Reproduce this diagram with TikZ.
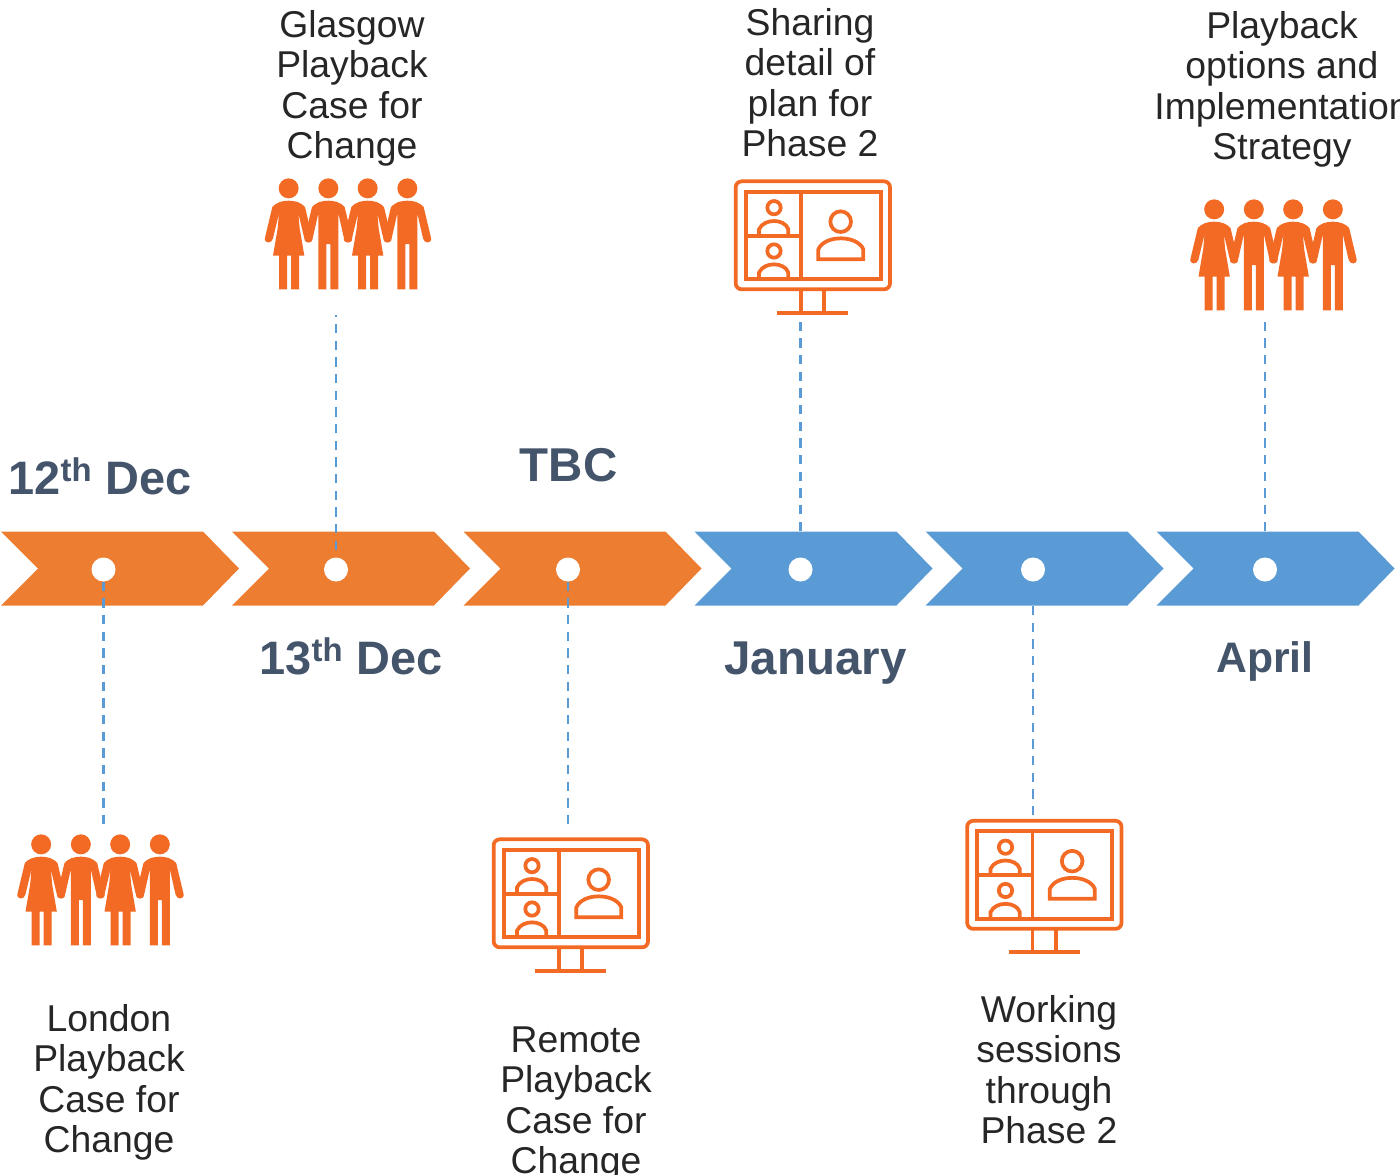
\documentclass[tikz,border=0pt]{standalone}
\usepackage{fontspec}
\setmainfont{Liberation Sans}
\definecolor{chevorange}{HTML}{ED7D31}
\definecolor{chevblue}{HTML}{5B9BD5}
\definecolor{iconorange}{HTML}{F36A25}
\definecolor{dateblue}{HTML}{44546A}
\definecolor{bodytext}{HTML}{262626}
\tikzset{
  dotnode/.style={circle,fill=white,minimum size=18pt,inner sep=0pt},
  dashline/.style={draw=chevblue,line width=2.1pt,dash pattern=on 7pt off 5.5pt},
  datetext/.style={font=\fontsize{35.6}{40}\selectfont\bfseries,text=dateblue,inner sep=0pt,anchor=base},
  bodynode/.style={font=\fontsize{28}{30.4}\selectfont,text=bodytext,align=center,inner sep=0pt,anchor=center},
  iconline/.style={draw=iconorange,line width=2.8pt,line join=miter},
}
\newcommand{\chevshape}[2]{\fill[#2] (#1,531.5) -- ++(202,0) -- ++(36,37) -- ++(-36,37) -- ++(-202,0) -- ++(37,-37) -- cycle;}
\newcommand{\womanfig}[1]{%
  \begin{scope}[shift={(#1,0)}]
  \fill[iconorange] (0,55) circle (30);
  \fill[iconorange] (0,92) .. controls (-20,92) and (-38,98) .. (-49,111)
    -- (-71,203) .. controls (-75,222) and (-50,222) .. (-47,205)
    -- (-29,130) -- (-33,175) -- (-47,257) -- (-29,257) -- (-29,358) -- (-5,358) -- (-5,257) -- (7,257) -- (7,358) -- (31,358) -- (31,257) -- (47,257)
    -- (33,175) -- (29,130) -- (47,205) .. controls (50,222) and (75,222) .. (71,203)
    -- (49,111) .. controls (38,98) and (20,92) .. (0,92) -- cycle;
  \end{scope}}
\newcommand{\manfig}[1]{%
  \begin{scope}[shift={(#1,0)}]
  \fill[iconorange] (0,55) circle (30);
  \fill[iconorange] (0,92) .. controls (-20,92) and (-38,98) .. (-49,111)
    -- (-71,203) .. controls (-75,222) and (-50,222) .. (-47,205)
    -- (-30,130) -- (-30,358) -- (-6,358) -- (-6,222) -- (6,222) -- (6,358) -- (30,358) -- (30,130)
    -- (47,205) .. controls (50,222) and (75,222) .. (71,203)
    -- (49,111) .. controls (38,98) and (20,92) .. (0,92) -- cycle;
  \end{scope}}
\newcommand{\peopleicon}[2]{%
  \begin{scope}[shift={(#1,#2)},x=.25pt,y=-.25pt]
  \womanfig{101}\manfig{220}\womanfig{338}\manfig{457}
  \end{scope}}
\newcommand{\monitoricon}[2]{%
  \begin{scope}[shift={(#1,#2)},x=.25pt,y=-.25pt]
  \draw[iconline,rounded corners=4.5pt] (32,34) rectangle (495,358);
  \draw[iconline] (62,65) rectangle (467,328);
  \draw[iconline] (228,65) -- (228,328) (62,197) -- (228,197);
  \draw[iconline] (147,113) circle (20);
  \draw[iconline] (102,197) -- (102,178) .. controls (110,160) and (130,153) .. (147,153) .. controls (164,153) and (184,160) .. (190,178) -- (190,197);
  \draw[iconline] (147,243) circle (20);
  \draw[iconline] (102,328) -- (102,308) .. controls (110,290) and (130,283) .. (147,283) .. controls (164,283) and (184,290) .. (190,308) -- (190,328);
  \draw[iconline] (347,155) circle (31);
  \draw[iconline] (280,268) -- (415,268) -- (415,238) .. controls (405,215) and (375,205) .. (347,205) .. controls (320,205) and (290,215) .. (280,238) -- cycle;
  \draw[iconline] (228,358) -- (228,428) (298,358) -- (298,428) (157,428) -- (370,428);
  \end{scope}}
\begin{document}
\begin{tikzpicture}[x=.75pt,y=-.75pt]
\useasboundingbox (0,0) rectangle (1400,1175);
% chevrons
\chevshape{1}{chevorange}
\chevshape{232}{chevorange}
\chevshape{463.5}{chevorange}
\chevshape{694.5}{chevblue}
\chevshape{925.5}{chevblue}
\chevshape{1156.5}{chevblue}
% dots
\node[dotnode] (d1) at (103.5,569.5) {};
\node[dotnode] (d2) at (336,569.5) {};
\node[dotnode] (d3) at (568,569.5) {};
\node[dotnode] (d4) at (800.5,569.5) {};
\node[dotnode] (d5) at (1033,569.5) {};
\node[dotnode] (d6) at (1265,569.5) {};
% connector free ends
\coordinate (e1) at (103.5,828);
\coordinate (e2) at (336,315);
\coordinate (e3) at (568,828);
\coordinate (e4) at (800.5,315);
\coordinate (e5) at (1033,820);
\coordinate (e6) at (1265,315);
\coordinate (s2) at (336,550);
\coordinate (s4) at (800.5,531);
\coordinate (s5) at (1033,606);
\coordinate (s6) at (1265,531);
\draw[dashline] (d1) -- (e1);
\draw[dashline] (s2) -- (e2);
\draw[dashline] (d3) -- (e3);
\draw[dashline] (s4) -- (e4);
\draw[dashline] (s5) -- (e5);
\draw[dashline] (s6) -- (e6);
% icons
\peopleicon{255}{170}
\peopleicon{1180.5}{191}
\peopleicon{7.5}{826}
\monitoricon{725}{170}
\monitoricon{483}{828}
\monitoricon{956.5}{809.5}
% dates
\node[datetext,font=\fontsize{35.2}{40}\selectfont\bfseries] (t1) at (100,494) {12\textsuperscript{th} Dec};
\node[datetext,font=\fontsize{35.2}{40}\selectfont\bfseries] (t2) at (351,674) {13\textsuperscript{th} Dec};
\node[datetext] (t3) at (568.5,481) {TBC};
\node[datetext] (t4) at (815.5,674) {January};
\node[datetext,font=\fontsize{32}{40}\selectfont\bfseries] (t5) at (1265,672.5) {April};
% captions
\node[bodynode] (b1) at (352,88.5) {Glasgow\\Playback\\Case for\\Change};
\node[bodynode] (b2) at (810,82.5) {Sharing\\detail of\\plan for\\Phase 2};
\node[bodynode] (b3) at (1282,89.5) {Playback\\options and\\Implementation\\Strategy};
\node[bodynode] (b4) at (109,1082.5) {London\\Playback\\Case for\\Change};
\node[bodynode] (b5) at (576,1104) {Remote\\Playback\\Case for\\Change};
\node[bodynode] (b6) at (1049,1069.5) {Working\\sessions\\through\\Phase 2};
\end{tikzpicture}
\end{document}
